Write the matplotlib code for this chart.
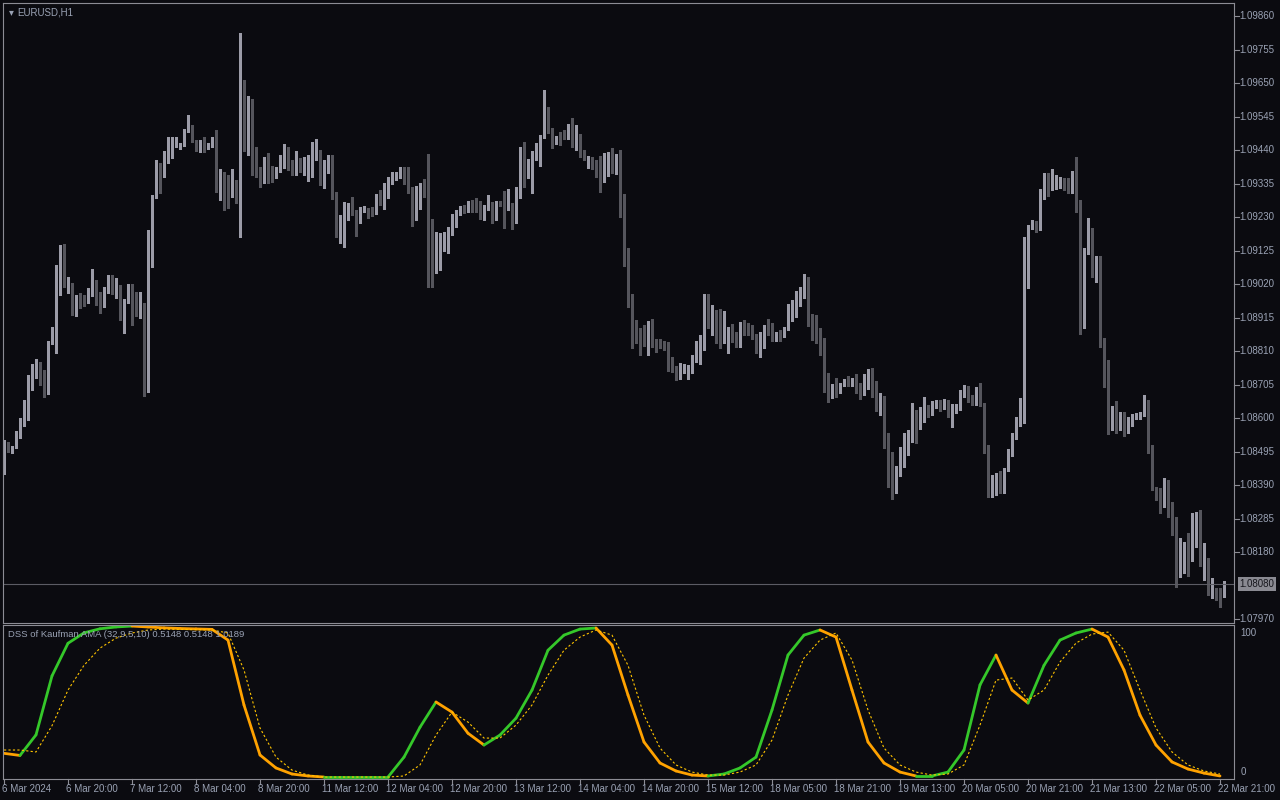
import numpy as np
import matplotlib
matplotlib.use("Agg")
import matplotlib.pyplot as plt
from matplotlib.collections import LineCollection

plt.rcParams["font.family"] = ["Liberation Sans", "DejaVu Sans"]

# EURUSD H1 candles, one per hour (index 0 = first bar on screen)
opens = [
    1.08428, 1.08518, 1.08497, 1.08509, 1.08541, 1.08578, 1.08609, 1.08723, 1.08754, 1.08766,
    1.08751, 1.08679, 1.08836, 1.08820, 1.09042, 1.09114, 1.09014, 1.09020, 1.08957, 1.08979,
    1.08973, 1.08964, 1.08985, 1.09024, 1.08976, 1.08973, 1.08995, 1.09024, 1.08992, 1.09011,
    1.08926, 1.08964, 1.09011, 1.08957, 1.08930, 1.08939, 1.08713, 1.09149, 1.09290, 1.09393,
    1.09358, 1.09415, 1.09456, 1.09459, 1.09450, 1.09453, 1.09500, 1.09503, 1.09472, 1.09447,
    1.09466, 1.09447, 1.09453, 1.09472, 1.09327, 1.09352, 1.09343, 1.09324, 1.09340, 1.09309,
    1.09572, 1.09572, 1.09600, 1.09396, 1.09380, 1.09358, 1.09409, 1.09390, 1.09355, 1.09371,
    1.09415, 1.09412, 1.09396, 1.09377, 1.09406, 1.09377, 1.09403, 1.09409, 1.09409, 1.09437,
    1.09337, 1.09403, 1.09418, 1.09290, 1.09186, 1.09230, 1.09258, 1.09265, 1.09246, 1.09233,
    1.09249, 1.09252, 1.09249, 1.09240, 1.09296, 1.09274, 1.09324, 1.09349, 1.09349, 1.09358,
    1.09374, 1.09368, 1.09312, 1.09236, 1.09290, 1.09330, 1.09327, 1.09192, 1.09102, 1.09161,
    1.09164, 1.09164, 1.09180, 1.09230, 1.09243, 1.09258, 1.09246, 1.09268, 1.09261, 1.09261,
    1.09227, 1.09255, 1.09268, 1.09224, 1.09277, 1.09271, 1.09258, 1.09268, 1.09221, 1.09293,
    1.09412, 1.09355, 1.09362, 1.09412, 1.09422, 1.09478, 1.09563, 1.09503, 1.09463, 1.09490,
    1.09481, 1.09475, 1.09525, 1.09475, 1.09481, 1.09431, 1.09412, 1.09415, 1.09387, 1.09368,
    1.09343, 1.09368, 1.09406, 1.09384, 1.09409, 1.09290, 1.09111, 1.08967, 1.08870, 1.08861,
    1.08857, 1.08839, 1.08904, 1.08842, 1.08839, 1.08832, 1.08820, 1.08770, 1.08760, 1.08723,
    1.08757, 1.08751, 1.08757, 1.08788, 1.08795, 1.08817, 1.08973, 1.08898, 1.08930, 1.08864,
    1.08851, 1.08870, 1.08867, 1.08854, 1.08826, 1.08895, 1.08885, 1.08889, 1.08857, 1.08826,
    1.08839, 1.08885, 1.08883, 1.08845, 1.08867, 1.08861, 1.08879, 1.08914, 1.08923, 1.08982,
    1.08985, 1.09017, 1.08914, 1.08883, 1.08848, 1.08845, 1.08719, 1.08679, 1.08700, 1.08682,
    1.08710, 1.08713, 1.08707, 1.08726, 1.08685, 1.08675, 1.08723, 1.08732, 1.08697, 1.08632,
    1.08666, 1.08541, 1.08466, 1.08369, 1.08431, 1.08494, 1.08506, 1.08531, 1.08619, 1.08572,
    1.08603, 1.08625, 1.08616, 1.08635, 1.08644, 1.08635, 1.08647, 1.08606, 1.08632, 1.08632,
    1.08679, 1.08691, 1.08660, 1.08647, 1.08691, 1.08641, 1.08513, 1.08381, 1.08384, 1.08416,
    1.08413, 1.08437, 1.08488, 1.08538, 1.08594, 1.08609, 1.09133, 1.09199, 1.09196, 1.09192,
    1.09309, 1.09362, 1.09321, 1.09340, 1.09340, 1.09340, 1.09324, 1.09306, 1.09365, 1.09280,
    1.08914, 1.09117, 1.09186, 1.09089, 1.09105, 1.08848, 1.08779, 1.08591, 1.08600, 1.08566,
    1.08616, 1.08556, 1.08578, 1.08603, 1.08606, 1.08609, 1.08641, 1.08494, 1.08381, 1.08375,
    1.08322, 1.08403, 1.08291, 1.08240, 1.08102, 1.08149, 1.08159, 1.08152, 1.08256, 1.08287,
    1.08140, 1.08152, 1.08046, 1.08052, 1.08049, 1.08043,
]
closes = [
    1.08522, 1.08497, 1.08509, 1.08544, 1.08588, 1.08612, 1.08723, 1.08757, 1.08766, 1.08748,
    1.08679, 1.08839, 1.08857, 1.09045, 1.09114, 1.09014, 1.09024, 1.08957, 1.08982, 1.08970,
    1.08961, 1.08989, 1.09024, 1.08970, 1.08970, 1.08998, 1.09027, 1.08995, 1.09008, 1.08926,
    1.08970, 1.09008, 1.08954, 1.08930, 1.08936, 1.08713, 1.09149, 1.09293, 1.09396, 1.09358,
    1.09415, 1.09463, 1.09463, 1.09481, 1.09459, 1.09503, 1.09503, 1.09469, 1.09447, 1.09469,
    1.09450, 1.09459, 1.09472, 1.09327, 1.09352, 1.09343, 1.09321, 1.09340, 1.09309, 1.09575,
    1.09566, 1.09600, 1.09396, 1.09384, 1.09358, 1.09409, 1.09352, 1.09352, 1.09371, 1.09422,
    1.09418, 1.09393, 1.09377, 1.09406, 1.09377, 1.09409, 1.09412, 1.09415, 1.09437, 1.09337,
    1.09409, 1.09418, 1.09286, 1.09186, 1.09236, 1.09265, 1.09261, 1.09243, 1.09230, 1.09255,
    1.09258, 1.09230, 1.09240, 1.09296, 1.09274, 1.09327, 1.09355, 1.09352, 1.09358, 1.09374,
    1.09368, 1.09309, 1.09236, 1.09296, 1.09330, 1.09324, 1.09189, 1.09095, 1.09161, 1.09167,
    1.09167, 1.09186, 1.09233, 1.09249, 1.09261, 1.09246, 1.09268, 1.09258, 1.09258, 1.09227,
    1.09261, 1.09268, 1.09224, 1.09277, 1.09271, 1.09258, 1.09268, 1.09221, 1.09296, 1.09412,
    1.09355, 1.09362, 1.09412, 1.09428, 1.09481, 1.09563, 1.09500, 1.09463, 1.09472, 1.09472,
    1.09475, 1.09522, 1.09475, 1.09478, 1.09428, 1.09412, 1.09415, 1.09384, 1.09365, 1.09340,
    1.09368, 1.09406, 1.09384, 1.09406, 1.09286, 1.09105, 1.08967, 1.08867, 1.08861, 1.08854,
    1.08839, 1.08901, 1.08826, 1.08832, 1.08829, 1.08817, 1.08770, 1.08760, 1.08723, 1.08760,
    1.08760, 1.08760, 1.08788, 1.08801, 1.08820, 1.08973, 1.08898, 1.08930, 1.08861, 1.08848,
    1.08870, 1.08879, 1.08848, 1.08826, 1.08895, 1.08885, 1.08876, 1.08851, 1.08823, 1.08842,
    1.08883, 1.08879, 1.08845, 1.08867, 1.08861, 1.08879, 1.08917, 1.08930, 1.08985, 1.08989,
    1.09014, 1.08911, 1.08879, 1.08845, 1.08842, 1.08713, 1.08675, 1.08700, 1.08682, 1.08707,
    1.08716, 1.08707, 1.08726, 1.08682, 1.08672, 1.08726, 1.08732, 1.08697, 1.08632, 1.08666,
    1.08538, 1.08462, 1.08356, 1.08434, 1.08494, 1.08509, 1.08534, 1.08616, 1.08572, 1.08619,
    1.08622, 1.08612, 1.08641, 1.08644, 1.08628, 1.08644, 1.08606, 1.08635, 1.08635, 1.08679,
    1.08691, 1.08653, 1.08647, 1.08694, 1.08641, 1.08513, 1.08381, 1.08388, 1.08416, 1.08413,
    1.08437, 1.08488, 1.08538, 1.08597, 1.08625, 1.09133, 1.09202, 1.09218, 1.09192, 1.09315,
    1.09365, 1.09324, 1.09343, 1.09346, 1.09343, 1.09324, 1.09306, 1.09368, 1.09277, 1.08904,
    1.09124, 1.09186, 1.09086, 1.09105, 1.08845, 1.08776, 1.08597, 1.08600, 1.08569, 1.08616,
    1.08556, 1.08585, 1.08606, 1.08609, 1.08609, 1.08644, 1.08494, 1.08381, 1.08372, 1.08322,
    1.08406, 1.08294, 1.08237, 1.08102, 1.08156, 1.08156, 1.08149, 1.08256, 1.08287, 1.08140,
    1.08149, 1.08049, 1.08052, 1.08033, 1.08030, 1.08080,
]
highs = [
    1.08531, 1.08525, 1.08512, 1.08560, 1.08600, 1.08657, 1.08735, 1.08769, 1.08785, 1.08776,
    1.08751, 1.08842, 1.08885, 1.09079, 1.09142, 1.09145, 1.09042, 1.09024, 1.08985, 1.08992,
    1.08985, 1.09008, 1.09067, 1.09033, 1.08995, 1.09011, 1.09049, 1.09049, 1.09039, 1.09017,
    1.08973, 1.09020, 1.09020, 1.08995, 1.08995, 1.08961, 1.09189, 1.09299, 1.09409, 1.09399,
    1.09437, 1.09481, 1.09481, 1.09481, 1.09463, 1.09506, 1.09550, 1.09519, 1.09472, 1.09472,
    1.09481, 1.09463, 1.09481, 1.09503, 1.09380, 1.09371, 1.09362, 1.09380, 1.09346, 1.09806,
    1.09659, 1.09609, 1.09600, 1.09450, 1.09387, 1.09418, 1.09431, 1.09390, 1.09387, 1.09425,
    1.09459, 1.09450, 1.09409, 1.09437, 1.09415, 1.09418, 1.09425, 1.09466, 1.09475, 1.09440,
    1.09409, 1.09425, 1.09425, 1.09309, 1.09236, 1.09277, 1.09274, 1.09293, 1.09252, 1.09261,
    1.09265, 1.09258, 1.09261, 1.09302, 1.09315, 1.09337, 1.09355, 1.09371, 1.09371, 1.09387,
    1.09387, 1.09387, 1.09324, 1.09327, 1.09337, 1.09349, 1.09428, 1.09224, 1.09183, 1.09180,
    1.09183, 1.09199, 1.09240, 1.09252, 1.09265, 1.09268, 1.09280, 1.09283, 1.09290, 1.09280,
    1.09268, 1.09299, 1.09277, 1.09280, 1.09280, 1.09312, 1.09318, 1.09274, 1.09324, 1.09450,
    1.09466, 1.09412, 1.09437, 1.09463, 1.09487, 1.09628, 1.09575, 1.09509, 1.09484, 1.09497,
    1.09503, 1.09522, 1.09541, 1.09519, 1.09490, 1.09440, 1.09422, 1.09418, 1.09409, 1.09422,
    1.09431, 1.09434, 1.09447, 1.09428, 1.09440, 1.09302, 1.09133, 1.08989, 1.08907, 1.08883,
    1.08892, 1.08904, 1.08911, 1.08848, 1.08848, 1.08842, 1.08839, 1.08792, 1.08763, 1.08773,
    1.08770, 1.08766, 1.08798, 1.08842, 1.08861, 1.08989, 1.08989, 1.08954, 1.08939, 1.08942,
    1.08936, 1.08885, 1.08895, 1.08870, 1.08901, 1.08907, 1.08898, 1.08892, 1.08864, 1.08870,
    1.08892, 1.08911, 1.08898, 1.08870, 1.08876, 1.08885, 1.08957, 1.08970, 1.08998, 1.09011,
    1.09052, 1.09042, 1.08926, 1.08923, 1.08883, 1.08851, 1.08741, 1.08707, 1.08726, 1.08710,
    1.08723, 1.08732, 1.08726, 1.08738, 1.08710, 1.08738, 1.08754, 1.08757, 1.08716, 1.08679,
    1.08669, 1.08553, 1.08494, 1.08450, 1.08509, 1.08553, 1.08563, 1.08647, 1.08625, 1.08635,
    1.08666, 1.08641, 1.08653, 1.08657, 1.08657, 1.08660, 1.08657, 1.08644, 1.08644, 1.08688,
    1.08704, 1.08700, 1.08672, 1.08697, 1.08710, 1.08647, 1.08516, 1.08422, 1.08428, 1.08434,
    1.08444, 1.08503, 1.08553, 1.08603, 1.08663, 1.09167, 1.09205, 1.09221, 1.09218, 1.09318,
    1.09368, 1.09368, 1.09380, 1.09362, 1.09355, 1.09352, 1.09352, 1.09374, 1.09418, 1.09283,
    1.09133, 1.09227, 1.09196, 1.09108, 1.09108, 1.08851, 1.08782, 1.08638, 1.08653, 1.08619,
    1.08619, 1.08603, 1.08612, 1.08616, 1.08619, 1.08672, 1.08657, 1.08516, 1.08384, 1.08381,
    1.08413, 1.08406, 1.08338, 1.08290, 1.08224, 1.08212, 1.08240, 1.08303, 1.08306, 1.08312,
    1.08209, 1.08162, 1.08099, 1.08068, 1.08068, 1.08090,
]
lows = [
    1.08424, 1.08494, 1.08491, 1.08506, 1.08538, 1.08575, 1.08594, 1.08688, 1.08726, 1.08703,
    1.08666, 1.08675, 1.08832, 1.08804, 1.08985, 1.09011, 1.08992, 1.08923, 1.08920, 1.08945,
    1.08951, 1.08961, 1.08982, 1.08954, 1.08930, 1.08948, 1.08992, 1.08989, 1.08976, 1.08907,
    1.08867, 1.08961, 1.08891, 1.08920, 1.08914, 1.08669, 1.08682, 1.09073, 1.09290, 1.09306,
    1.09355, 1.09399, 1.09415, 1.09450, 1.09443, 1.09453, 1.09497, 1.09466, 1.09437, 1.09434,
    1.09434, 1.09443, 1.09450, 1.09309, 1.09283, 1.09252, 1.09258, 1.09293, 1.09274, 1.09167,
    1.09437, 1.09424, 1.09362, 1.09355, 1.09324, 1.09337, 1.09337, 1.09340, 1.09352, 1.09371,
    1.09384, 1.09377, 1.09362, 1.09362, 1.09371, 1.09362, 1.09343, 1.09355, 1.09409, 1.09330,
    1.09321, 1.09368, 1.09286, 1.09167, 1.09149, 1.09136, 1.09221, 1.09236, 1.09170, 1.09211,
    1.09246, 1.09227, 1.09233, 1.09240, 1.09268, 1.09255, 1.09290, 1.09334, 1.09346, 1.09352,
    1.09334, 1.09306, 1.09202, 1.09221, 1.09255, 1.09293, 1.09011, 1.09011, 1.09055, 1.09064,
    1.09124, 1.09117, 1.09174, 1.09199, 1.09236, 1.09243, 1.09246, 1.09246, 1.09246, 1.09224,
    1.09221, 1.09252, 1.09211, 1.09221, 1.09265, 1.09196, 1.09252, 1.09192, 1.09211, 1.09290,
    1.09324, 1.09352, 1.09306, 1.09409, 1.09390, 1.09478, 1.09494, 1.09447, 1.09459, 1.09456,
    1.09475, 1.09475, 1.09450, 1.09440, 1.09418, 1.09409, 1.09384, 1.09380, 1.09355, 1.09309,
    1.09340, 1.09358, 1.09368, 1.09365, 1.09230, 1.09077, 1.08948, 1.08820, 1.08836, 1.08798,
    1.08826, 1.08798, 1.08823, 1.08807, 1.08820, 1.08813, 1.08748, 1.08744, 1.08719, 1.08723,
    1.08741, 1.08723, 1.08741, 1.08776, 1.08770, 1.08813, 1.08883, 1.08861, 1.08836, 1.08820,
    1.08836, 1.08804, 1.08839, 1.08823, 1.08823, 1.08861, 1.08861, 1.08848, 1.08804, 1.08792,
    1.08820, 1.08861, 1.08842, 1.08842, 1.08842, 1.08854, 1.08876, 1.08904, 1.08917, 1.08951,
    1.08976, 1.08889, 1.08845, 1.08836, 1.08798, 1.08682, 1.08650, 1.08663, 1.08666, 1.08679,
    1.08700, 1.08700, 1.08700, 1.08679, 1.08660, 1.08672, 1.08691, 1.08666, 1.08622, 1.08609,
    1.08506, 1.08385, 1.08347, 1.08366, 1.08419, 1.08447, 1.08485, 1.08525, 1.08522, 1.08566,
    1.08588, 1.08603, 1.08609, 1.08632, 1.08622, 1.08628, 1.08603, 1.08572, 1.08616, 1.08625,
    1.08666, 1.08650, 1.08641, 1.08641, 1.08638, 1.08491, 1.08353, 1.08353, 1.08359, 1.08366,
    1.08366, 1.08434, 1.08481, 1.08534, 1.08575, 1.08585, 1.09008, 1.09192, 1.09183, 1.09189,
    1.09286, 1.09296, 1.09315, 1.09318, 1.09321, 1.09315, 1.09306, 1.09306, 1.09246, 1.08864,
    1.08883, 1.09114, 1.09042, 1.09027, 1.08823, 1.08697, 1.08550, 1.08563, 1.08553, 1.08563,
    1.08544, 1.08553, 1.08575, 1.08597, 1.08597, 1.08606, 1.08491, 1.08375, 1.08344, 1.08303,
    1.08322, 1.08291, 1.08234, 1.08071, 1.08102, 1.08115, 1.08105, 1.08152, 1.08196, 1.08137,
    1.08093, 1.08046, 1.08037, 1.08030, 1.08009, 1.08040,
]

# DSS of Kaufman AMA, sampled every 4 bars
dss_bars = list(range(0, 305, 4))
dss_main = [
    15.7, 14.3, 27.9, 67.0, 88.6, 95.5, 98.2, 99.4, 100.0, 99.4,
    98.8, 98.4, 98.1, 97.8, 90.7, 47.7, 14.6, 6.0, 2.0, 0.7,
    0.0, 0.0, 0.0, 0.0, 0.0, 13.2, 33.0, 49.7, 43.0, 29.0,
    21.2, 27.8, 39.0, 57.6, 84.0, 94.0, 98.0, 98.7, 87.4, 54.3,
    23.2, 9.3, 4.0, 1.3, 0.7, 2.0, 6.0, 13.2, 44.4, 80.8,
    94.0, 97.4, 92.7, 57.6, 23.2, 9.3, 3.3, 0.7, 0.7, 3.3,
    17.9, 61.0, 80.8, 57.6, 49.0, 74.0, 90.7, 95.4, 98.0, 92.7,
    70.9, 41.0, 21.2, 10.0, 5.3, 2.6, 0.7,
]
dss_signal = [
    17.9, 17.9, 16.6, 34.0, 57.6, 74.0, 85.4, 92.0, 95.4, 97.4,
    98.0, 97.8, 97.6, 97.4, 95.4, 70.9, 32.5, 13.2, 4.6, 1.3,
    0.0, 0.0, 0.0, 0.0, 0.0, 0.7, 8.0, 27.8, 43.0, 36.4,
    25.8, 25.8, 34.4, 47.7, 67.5, 84.0, 92.7, 97.4, 94.0, 74.0,
    41.0, 19.2, 8.0, 3.3, 1.3, 1.3, 3.3, 8.0, 24.5, 54.3,
    78.8, 90.7, 95.4, 77.5, 44.4, 19.2, 8.0, 3.3, 1.3, 2.0,
    8.0, 34.4, 64.2, 65.6, 51.0, 57.6, 76.2, 88.7, 94.7, 96.0,
    84.0, 57.6, 32.5, 16.6, 8.0, 4.0, 2.0,
]

price_ticks = [1.09860, 1.09755, 1.09650, 1.09545, 1.09440, 1.09335, 1.09230, 1.09125,
               1.09020, 1.08915, 1.08810, 1.08705, 1.08600, 1.08495, 1.08390, 1.08285,
               1.08180, 1.07970]
bid = 1.08080
time_labels = ["6 Mar 2024", "6 Mar 20:00", "7 Mar 12:00", "8 Mar 04:00", "8 Mar 20:00",
               "11 Mar 12:00", "12 Mar 04:00", "12 Mar 20:00", "13 Mar 12:00", "14 Mar 04:00",
               "14 Mar 20:00", "15 Mar 12:00", "18 Mar 05:00", "18 Mar 21:00", "19 Mar 13:00",
               "20 Mar 05:00", "20 Mar 21:00", "21 Mar 13:00", "22 Mar 05:00", "22 Mar 21:00"]
label_step = 16

BG = "#0b0b10"
FRAME = "#8c8c94"
TXT = "#9aa2b4"
BULL = "#9c9ca8"
BEAR = "#55555c"

W, H = 1280, 800
fig = plt.figure(figsize=(W / 100, H / 100), dpi=100, facecolor=BG)


def box(l, t, r, b):
    return [l / W, 1 - b / H, (r - l) / W, (b - t) / H]


ax = fig.add_axes(box(3, 3, 1234, 623))
ind = fig.add_axes(box(3, 625, 1234, 779))
for a in (ax, ind):
    a.set_facecolor(BG)
    for s in a.spines.values():
        s.set_color(FRAME)
        s.set_linewidth(0.8)
    a.set_xticks([])
    a.set_yticks([])
    a.set_xlim(-0.25, 307.5)

o = np.array(opens)
c = np.array(closes)
hi = np.array(highs)
lo = np.array(lows)
x = np.arange(len(o))
up = c >= o
cols = np.where(up, BULL, BEAR)

ax.vlines(x, lo, hi, colors=cols, linewidth=0.75, antialiased=False)
body_lo = np.minimum(o, c)
body_h = np.maximum(np.abs(c - o), 0.000025)
ax.bar(x, body_h, bottom=body_lo, width=0.75, color=cols, linewidth=0, antialiased=False)
ax.axhline(bid, color="#5c5c64", linewidth=0.8)
ax.set_ylim(1.07958, 1.09901)

ax.text(0.0045, 0.985, "\u25BE", transform=ax.transAxes, color=TXT, fontsize=7,
        va="center", family="DejaVu Sans")
ax.text(0.0115, 0.985, "EURUSD,H1", transform=ax.transAxes, color=TXT, fontsize=7, va="center")

# price scale on the right
for p in price_ticks:
    ax.plot([1.0, 1.004], [p, p], transform=ax.get_yaxis_transform(), color=FRAME,
            linewidth=0.8, clip_on=False)
    ax.text(1.0045, p, f"{p:.5f}", transform=ax.get_yaxis_transform(), color=TXT,
            fontsize=7, va="center", ha="left")
ax.text(1.0045, bid, f"{bid:.5f}", transform=ax.get_yaxis_transform(), color="#16161c",
        fontsize=7, va="center", ha="left",
        bbox=dict(boxstyle="square,pad=0.2", fc="#8a8a92", ec="none"))

# indicator panel
bx = np.array(dss_bars)
m = np.array(dss_main)
sig = np.array(dss_signal)
segs = [[(bx[i], m[i]), (bx[i + 1], m[i + 1])] for i in range(len(bx) - 1)]
seg_cols = ["#35c82a" if m[i + 1] >= m[i] else "#ffa200" for i in range(len(bx) - 1)]
ind.add_collection(LineCollection(segs, colors=seg_cols, linewidths=2.0, capstyle="round"))
ind.plot(bx, sig, color="#ffc400", linewidth=0.8, dashes=(2, 2))
ind.set_ylim(-1.3, 100.7)
ind.text(0.004, 0.94, "DSS of Kaufman AMA (32,9,5,10) 0.5148 0.5148 1.0189",
         transform=ind.transAxes, color=TXT, fontsize=6.8, va="center")
ind.text(1.005, 0.95, "100", transform=ind.transAxes, color=TXT, fontsize=7, va="center")
ind.text(1.005, 0.045, "0", transform=ind.transAxes, color=TXT, fontsize=7, va="center")

# time scale
for k, lab in enumerate(time_labels):
    bar = k * label_step
    ind.plot([bar, bar], [0, -0.03], transform=ind.get_xaxis_transform(), color=FRAME,
             linewidth=0.8, clip_on=False)
    ind.text(bar - 0.4, -0.035, lab, transform=ind.get_xaxis_transform(), color=TXT,
             fontsize=7, va="top", ha="left")

fig.savefig("out.png", dpi=100, facecolor=BG)
